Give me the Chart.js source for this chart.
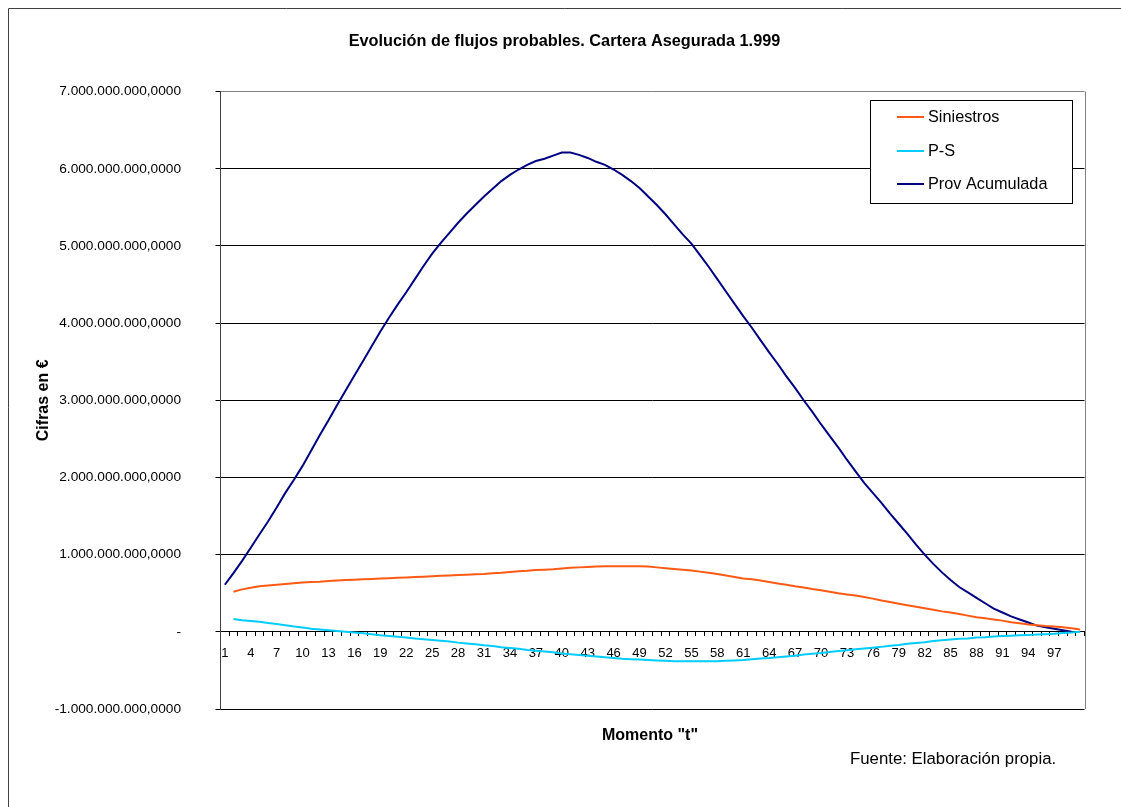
<!DOCTYPE html>
<html>
<head>
<meta charset="utf-8">
<script src="https://cdn.jsdelivr.net/npm/chart.js@4/dist/chart.umd.min.js"></script>
<style>
  html, body { margin: 0; padding: 0; background: #fff; }
  #wrap { width: 1121px; height: 807px; position: relative; }
</style>
</head>
<body>
<div id="wrap"><canvas id="c" width="1121" height="807"></canvas></div>
<script>
// Momento "t" categories
const categories = ['1','2','3','4','5','6','7','8','9','10','11','12','13','14','15','16','17','18','19','20',
'21','22','23','24','25','26','27','28','29','30','31','32','33','34','35','36','37','38','39','40',
'41','42','43','44','45','46','47','48','49','50','51','52','53','54','55','56','57','58','59','60',
'61','62','63','64','65','66','67','68','69','70','71','72','73','74','75','76','77','78','79','80',
'81','82','83','84','85','86','87','88','89','90','91','92','93','94','95','96','97','98','99','100'];

// Values in thousands of millions of euros (x 1.000.000.000)
const siniestros = [null,0.52,0.55,0.57,0.59,0.60,0.61,0.62,0.63,0.64,
0.645,0.65,0.66,0.665,0.67,0.675,0.68,0.685,0.69,0.695,
0.70,0.705,0.71,0.715,0.72,0.725,0.73,0.735,0.74,0.745,
0.75,0.76,0.765,0.775,0.785,0.79,0.80,0.805,0.81,0.82,
0.83,0.835,0.84,0.845,0.85,0.85,0.85,0.85,0.85,0.845,
0.835,0.825,0.815,0.805,0.795,0.78,0.765,0.75,0.73,0.71,
0.69,0.68,0.665,0.645,0.625,0.61,0.59,0.575,0.555,0.54,
0.52,0.50,0.485,0.47,0.45,0.43,0.405,0.385,0.365,0.345,
0.325,0.305,0.285,0.265,0.25,0.23,0.21,0.19,0.175,0.16,
0.145,0.125,0.11,0.095,0.085,0.075,0.07,0.06,0.045,0.03];

const pMenosS = [null,0.165,0.15,0.14,0.13,0.115,0.10,0.085,0.07,0.055,
0.04,0.03,0.02,0.01,0.0,-0.01,-0.02,-0.03,-0.045,-0.055,
-0.065,-0.075,-0.085,-0.095,-0.105,-0.115,-0.125,-0.14,-0.15,-0.16,
-0.175,-0.185,-0.20,-0.21,-0.22,-0.235,-0.245,-0.255,-0.265,-0.28,
-0.29,-0.30,-0.31,-0.32,-0.33,-0.34,-0.35,-0.355,-0.36,-0.365,
-0.37,-0.375,-0.38,-0.38,-0.38,-0.38,-0.38,-0.38,-0.375,-0.37,
-0.365,-0.355,-0.345,-0.34,-0.33,-0.32,-0.31,-0.295,-0.285,-0.275,
-0.26,-0.25,-0.24,-0.225,-0.215,-0.205,-0.195,-0.18,-0.17,-0.155,
-0.145,-0.135,-0.12,-0.11,-0.10,-0.09,-0.085,-0.075,-0.07,-0.06,
-0.055,-0.05,-0.045,-0.04,-0.035,-0.03,-0.025,-0.015,-0.01,0.0];

const provAcumulada = [0.61,0.76,0.92,1.09,1.26,1.43,1.61,1.80,1.97,2.15,
2.35,2.55,2.74,2.94,3.13,3.32,3.51,3.70,3.89,4.07,
4.24,4.40,4.57,4.74,4.90,5.04,5.17,5.30,5.42,5.53,
5.64,5.74,5.84,5.92,5.99,6.05,6.10,6.13,6.17,6.21,
6.21,6.18,6.14,6.09,6.05,5.99,5.92,5.84,5.75,5.64,
5.53,5.41,5.28,5.15,5.03,4.88,4.73,4.57,4.41,4.25,
4.09,3.94,3.78,3.62,3.47,3.31,3.16,3.00,2.85,2.69,
2.54,2.39,2.23,2.08,1.93,1.80,1.67,1.53,1.40,1.27,
1.13,1.00,0.88,0.77,0.67,0.58,0.51,0.44,0.37,0.30,
0.25,0.20,0.16,0.12,0.08,0.06,0.04,0.02,0.00,null];

const seriesNames = ['Siniestros', 'P-S', 'Prov Acumulada'];
const seriesColors = ['#FF5A14', '#00CCFF', '#000080'];
const UNIT = 1e9;

const FONT = '"Liberation Sans", Arial, sans-serif';

function fmtEs(v) {
  if (Math.abs(v) < 1e-6) return '-';
  const s = String(Math.round(Math.abs(v))).replace(/\B(?=(\d{3})+(?!\d))/g, '.');
  return (v < 0 ? '-' : '') + s + ',0000';
}

const toUnits = arr => arr.map(v => v === null ? null : v * UNIT);

const decorPlugin = {
  id: 'decor',
  beforeDraw(chart) {
    const ctx = chart.ctx;
    ctx.save();
    ctx.fillStyle = '#fff';
    ctx.fillRect(0, 0, chart.width, chart.height);
    ctx.strokeStyle = '#404040';
    ctx.lineWidth = 1;
    ctx.beginPath();
    ctx.moveTo(8.5, chart.height);
    ctx.lineTo(8.5, 8.5);
    ctx.lineTo(chart.width, 8.5);
    ctx.stroke();
    ctx.restore();
  },
  afterDraw(chart) {
    const ctx = chart.ctx;
    const a = chart.chartArea;
    ctx.save();
    // plot area right border
    ctx.strokeStyle = '#808080';
    ctx.lineWidth = 1;
    ctx.beginPath();
    ctx.moveTo(Math.round(a.right) + 0.5, a.top);
    ctx.lineTo(Math.round(a.right) + 0.5, a.bottom);
    ctx.stroke();

    // legend
    const lx = 870.5, ly = 100.5, lw = 202, lh = 103;
    ctx.fillStyle = '#fff';
    ctx.fillRect(lx, ly, lw, lh);
    ctx.strokeStyle = '#000';
    ctx.strokeRect(lx, ly, lw, lh);
    const rows = [117, 151, 184];
    ctx.font = '16.3px ' + FONT;
    ctx.textBaseline = 'middle';
    ctx.textAlign = 'left';
    chart.data.datasets.forEach((ds, i) => {
      ctx.strokeStyle = ds.borderColor;
      ctx.lineWidth = 2;
      ctx.beginPath();
      ctx.moveTo(897, rows[i]);
      ctx.lineTo(924, rows[i]);
      ctx.stroke();
      ctx.fillStyle = '#000';
      ctx.fillText(ds.label, 928, rows[i] + 1);
    });

    // x-axis title and source note
    ctx.fillStyle = '#000';
    ctx.textAlign = 'center';
    ctx.font = 'bold 16px ' + FONT;
    ctx.fillText('Momento "t"', 650, 736);
    ctx.textAlign = 'left';
    ctx.font = '16.8px ' + FONT;
    ctx.fillText('Fuente: Elaboración propia.', 850, 759);
    ctx.restore();
  }
};

new Chart(document.getElementById('c'), {
  type: 'line',
  data: {
    labels: categories,
    datasets: [
      { label: seriesNames[0], data: toUnits(siniestros), borderColor: seriesColors[0], backgroundColor: seriesColors[0] },
      { label: seriesNames[1], data: toUnits(pMenosS), borderColor: seriesColors[1], backgroundColor: seriesColors[1] },
      { label: seriesNames[2], data: toUnits(provAcumulada), borderColor: seriesColors[2], backgroundColor: seriesColors[2] }
    ]
  },
  options: {
    responsive: false,
    animation: false,
    devicePixelRatio: 1,
    layout: { padding: { left: 8, right: 0, top: 0, bottom: 98 } },
    elements: {
      line: { borderWidth: 2, tension: 0 },
      point: { radius: 0, hoverRadius: 0 }
    },
    plugins: {
      legend: { display: false },
      tooltip: { enabled: false },
      title: {
        display: true,
        text: 'Evolución de flujos probables. Cartera Asegurada 1.999',
        color: '#000',
        font: { family: FONT, size: 16.3, weight: 'bold' },
        padding: { top: 32, bottom: 40 }
      }
    },
    scales: {
      x: {
        type: 'category',
        position: { y: 0 },
        offset: true,
        grid: {
          display: true,
          offset: true,
          drawOnChartArea: false,
          drawTicks: true,
          tickLength: 4,
          color: '#000'
        },
        border: { display: true, color: '#000', width: 1 },
        ticks: {
          autoSkip: false,
          maxRotation: 0,
          minRotation: 0,
          padding: 10,
          color: '#000',
          font: { family: FONT, size: 13 },
          callback: function (val, index) {
            return (index % 3 === 0 && index < 99) ? this.getLabelForValue(val) : '';
          }
        }
      },
      y: {
        position: 'left',
        min: -1 * UNIT,
        max: 7 * UNIT,
        afterFit: s => { s.width = 212.5; },
        ticks: {
          stepSize: UNIT,
          padding: 34.5,
          color: '#000',
          font: { family: FONT, size: 13.7 },
          callback: v => fmtEs(v)
        },
        grid: {
          color: ctx => (ctx.tick && ctx.tick.value === 7 * UNIT) ? '#808080' : '#000',
          tickColor: '#000',
          tickLength: 5,
          lineWidth: 1
        },
        border: { display: true, color: '#404040', width: 1 },
        title: {
          display: true,
          text: 'Cifras en €',
          color: '#000',
          font: { family: FONT, size: 16, weight: 'bold' },
          padding: { top: 26, bottom: 0 }
        }
      },
      y2: {
        position: 'right',
        display: true,
        min: -1 * UNIT,
        max: 7 * UNIT,
        afterFit: s => { s.width = 36.5; },
        grid: { display: false, drawOnChartArea: false },
        border: { display: false },
        ticks: { display: false }
      }
    }
  },
  plugins: [decorPlugin]
});
</script>
</body>
</html>
